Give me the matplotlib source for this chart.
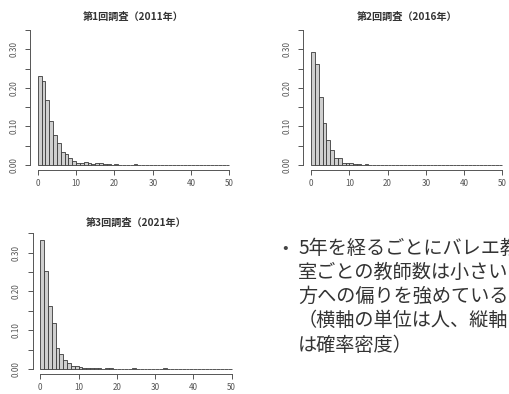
import numpy as np
import matplotlib
matplotlib.use('Agg')
import matplotlib.pyplot as plt

plt.rcParams['font.family'] = ['Noto Sans CJK JP', 'DejaVu Sans']

# density per 1-person bin (0-1, 1-2, ...)
dens_2011 = [0.231, 0.219, 0.169, 0.115, 0.077, 0.056, 0.034, 0.028, 0.019, 0.010,
             0.006, 0.006, 0.009, 0.005, 0.003, 0.005, 0.004, 0.003, 0.002, 0.001,
             0.002, 0.001, 0.001, 0.0, 0.0, 0.002, 0.0, 0.0, 0.0, 0.0,
             0.0, 0.0, 0.0, 0.0, 0.0, 0.0, 0.0, 0.0, 0.0, 0.0,
             0.0, 0.0, 0.0, 0.0, 0.0, 0.0, 0.0, 0.0, 0.0, 0.0]
dens_2016 = [0.293, 0.263, 0.177, 0.110, 0.064, 0.038, 0.018, 0.018, 0.006, 0.006,
             0.005, 0.003, 0.002, 0.001, 0.002, 0.0, 0.0, 0.0, 0.0, 0.0,
             0.0, 0.0, 0.0, 0.0, 0.0, 0.0, 0.0, 0.0, 0.0, 0.0,
             0.0, 0.0, 0.0, 0.0, 0.0, 0.0, 0.0, 0.0, 0.0, 0.0,
             0.0, 0.0, 0.0, 0.0, 0.0, 0.0, 0.0, 0.0, 0.0, 0.0]
dens_2021 = [0.333, 0.253, 0.163, 0.118, 0.053, 0.039, 0.023, 0.015, 0.009, 0.008,
             0.005, 0.003, 0.003, 0.002, 0.003, 0.002, 0.001, 0.002, 0.002, 0.001,
             0.0, 0.0, 0.0, 0.0, 0.002, 0.0, 0.0, 0.0, 0.0, 0.0,
             0.0, 0.0, 0.002, 0.0, 0.0, 0.0, 0.0, 0.0, 0.0, 0.0,
             0.0, 0.0, 0.0, 0.0, 0.0, 0.0, 0.0, 0.0, 0.0, 0.0]
bin_edges = list(range(0, 50))

titles = ['第1回調査（2011年）', '第2回調査（2016年）', '第3回調査（2021年）']
x_ticks = [0, 10, 20, 30, 40, 50]
y_ticks = [0.00, 0.05, 0.10, 0.15, 0.20, 0.25, 0.30, 0.35]
y_labels = ['0.00', '', '0.10', '', '0.20', '', '0.30', '']

note_lines = ['5年を経るごとにバレエ教',
              '室ごとの教師数は小さい',
              '方への偏りを強めている',
              '（横軸の単位は人、縦軸',
              'は確率密度）']

fig = plt.figure(figsize=(5.1, 3.94), dpi=100)

# axes boxes in figure fractions, and title gap
boxes = [[0.059, 0.5675, 0.406, 0.370],
         [0.595, 0.5675, 0.405, 0.370],
         [0.064, 0.0497, 0.405, 0.372]]
title_pads = [3.5, 3.5, 1.0]
data = [dens_2011, dens_2016, dens_2021]

for box, dens, title, tp in zip(boxes, data, titles, title_pads):
    ax = fig.add_axes(box)
    ax.bar(bin_edges, dens, width=1, align='edge',
           facecolor='#cfcfcf', edgecolor='#3a3a3a', linewidth=0.6)
    ax.set_xlim(-2, 52)
    ax.set_ylim(-0.014, 0.364)
    for s in ['top', 'right']:
        ax.spines[s].set_visible(False)
    ax.spines['left'].set_bounds(0, 0.35)
    ax.spines['bottom'].set_bounds(0, 50)
    for s in ['left', 'bottom']:
        ax.spines[s].set_color('#555555')
        ax.spines[s].set_linewidth(0.7)
    ax.set_xticks(x_ticks)
    ax.set_yticks(y_ticks)
    ax.set_yticklabels(y_labels, rotation=90, va='center')
    ax.tick_params(axis='both', length=3.5, width=0.7, color='#555555',
                   labelsize=5.8, labelcolor='#555555')
    ax.tick_params(axis='y', pad=5)
    ax.tick_params(axis='x', pad=3)
    ax.set_title(title, fontsize=7.3, fontweight='bold', color='#333333', pad=tp)

# bullet note (first line runs off the right edge, as in the source)
fig.text(285 / 510, 1 - 248 / 394, '•', fontsize=12, color='#444444',
         ha='center', va='center')
for i, line in enumerate(note_lines):
    y = 248 + i * 24.3
    fig.text(298 / 510, 1 - y / 394, line, fontsize=13.8, color='#333333',
             ha='left', va='center')

fig.savefig('out.png', dpi=100)
